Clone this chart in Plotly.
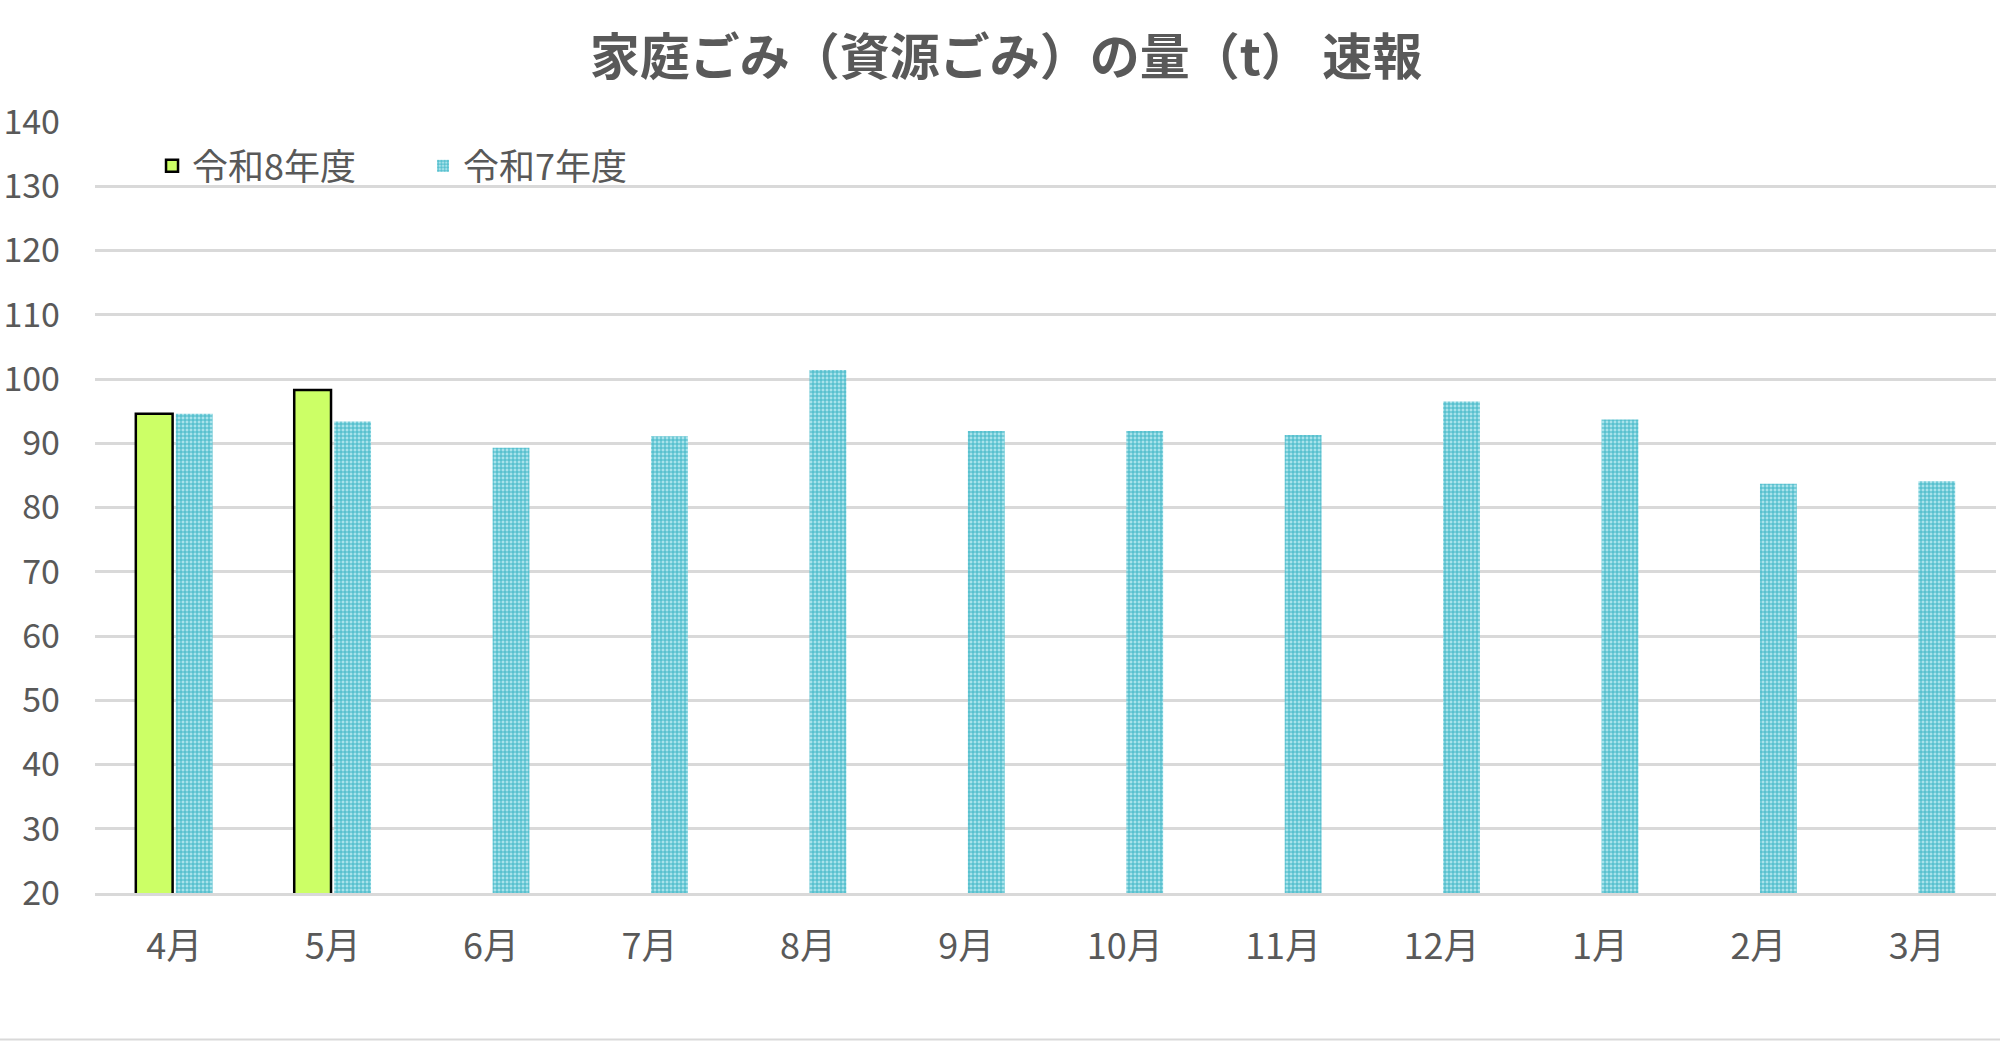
import plotly.graph_objects as go

months = ["4月", "5月", "6月", "7月", "8月", "9月", "10月", "11月", "12月", "1月", "2月", "3月"]
r8_values = [94.6, 98.3, None, None, None, None, None, None, None, None, None, None]
r7_values = [94.6, 93.4, 89.3, 91.1, 101.4, 91.9, 91.9, 91.3, 96.5, 93.7, 83.7, 84.1]
series_names = ["令和8年度", "令和7年度"]
y_ticks = [20, 30, 40, 50, 60, 70, 80, 90, 100, 110, 120, 130, 140]
title_text = "家庭ごみ（資源ごみ）の量（t） 速報"

FONT = "Noto Sans CJK JP"
W, H = 2000, 1041
ml, mr, mt, mb = 95, 4, 122, 148
plot_w = W - ml - mr
plot_h = H - mt - mb

fig = go.Figure()
fig.add_trace(go.Bar(
    x=months, y=r8_values, name=series_names[0],
    marker=dict(color="#ccff66", line=dict(color="#000000", width=2.5)),
))
fig.add_trace(go.Bar(
    x=months, y=r7_values, name=series_names[1],
    marker=dict(color="#8fd8e2", line=dict(width=0),
                pattern=dict(shape="+", fgcolor="#40b6c6", bgcolor="#a9e3eb",
                             size=4, solidity=0.45, fillmode="replace")),
))

fig.update_layout(
    width=W, height=H,
    margin=dict(l=ml, r=mr, t=mt, b=mb),
    paper_bgcolor="white", plot_bgcolor="white",
    barmode="group", bargap=0.495, bargroupgap=0.08,
    font=dict(family=FONT, color="#595959", size=30),
    title=dict(text="<b>" + title_text + "</b>", x=0.503, xanchor="center",
               y=1 - 57 / H, yanchor="middle",
               font=dict(family=FONT, size=50, color="#595959")),
    legend=dict(orientation="h", x=0.030, xanchor="left", y=0.943, yanchor="middle",
                font=dict(family=FONT, size=36, color="#595959"),
                bgcolor="rgba(0,0,0,0)", entrywidth=226, entrywidthmode="pixels",
                traceorder="normal"),
    showlegend=True,
    shapes=[dict(type="line", xref="paper", yref="paper",
                 x0=-ml / plot_w, x1=1 + mr / plot_w,
                 y0=-(mb - 1.5) / plot_h, y1=-(mb - 1.5) / plot_h,
                 line=dict(color="#d9d9d9", width=2))],
)
fig.update_yaxes(range=[20, 140], tickvals=y_ticks, showgrid=True,
                 gridcolor="#d9d9d9", gridwidth=2.5, zeroline=False,
                 showline=False, ticks="", ticklabelstandoff=34,
                 tickfont=dict(family=FONT, size=34, color="#595959"))
fig.update_xaxes(showgrid=False, showline=True, linecolor="#d9d9d9", linewidth=2.5,
                 ticks="", ticklabelstandoff=20,
                 tickfont=dict(family=FONT, size=36, color="#595959"))

fig.write_html("out.html")
